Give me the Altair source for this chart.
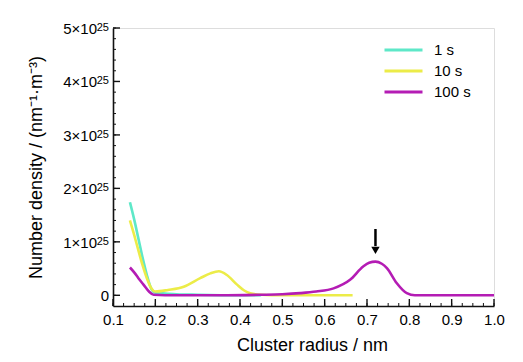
import altair as alt
import pandas as pd

# Data in units of 1e25 nm^-1 m^-3
x_1s = [0.14, 0.15, 0.16, 0.17, 0.18, 0.19, 0.20, 0.25, 0.30, 0.40, 0.45]
y_1s = [1.74, 1.42, 1.06, 0.70, 0.38, 0.13, 0.05, 0.02, 0.01, 0.0, 0.0]

x_10s = [0.14, 0.15, 0.16, 0.17, 0.18, 0.19, 0.20, 0.23, 0.267, 0.306, 0.33, 0.35, 0.369, 0.393, 0.41, 0.424, 0.45, 0.50, 0.60, 0.666]
y_10s = [1.40, 1.13, 0.84, 0.56, 0.32, 0.14, 0.07, 0.10, 0.16, 0.32, 0.41, 0.45, 0.38, 0.20, 0.09, 0.04, 0.01, 0.0, 0.0, 0.0]

x_100s = [0.14, 0.15, 0.16, 0.172, 0.185, 0.196, 0.25, 0.35, 0.45, 0.50, 0.542, 0.58, 0.621, 0.66, 0.691, 0.705, 0.72, 0.735, 0.747, 0.77, 0.794, 0.813, 0.85, 0.90, 1.0]
y_100s = [0.52, 0.43, 0.32, 0.20, 0.07, 0.01, 0.0, 0.0, 0.01, 0.02, 0.04, 0.07, 0.13, 0.29, 0.54, 0.61, 0.63, 0.59, 0.51, 0.23, 0.04, 0.0, 0.0, 0.0, 0.0]

series = ["1 s", "10 s", "100 s"]
colors = ["#5ee8c8", "#ecec48", "#b41cb4"]

arrow_x = [0.72]
arrow_top = [1.24]
arrow_bottom = [0.92]
arrow_head = [0.84]

x_major = [0.1, 0.2, 0.3, 0.4, 0.5, 0.6, 0.7, 0.8, 0.9, 1.0]
y_major = [0, 1, 2, 3, 4, 5]
y_label_main = ["0", "1×10", "2×10", "3×10", "4×10", "5×10"]
y_label_exp = ["", "25", "25", "25", "25", "25"]
x_minor = [round(0.1 + 0.025 * i, 3) for i in range(37)]
y_minor = [round(0.2 * i, 2) for i in range(26)]

rows = []
for name, xs_, ys_ in [("1 s", x_1s, y_1s), ("10 s", x_10s, y_10s), ("100 s", x_100s, y_100s)]:
    for i, (a, b) in enumerate(zip(xs_, ys_)):
        rows.append({"series": name, "x": a, "y": b, "order": i})
df = pd.DataFrame(rows)

W, H = 381, 278
FONT = "Liberation Sans"

xs = alt.Scale(domain=[0.1, 1.0], nice=False, zero=False)
ys = alt.Scale(domain=[-0.2, 5.0], nice=False, zero=False)

lines = alt.Chart(df).mark_line(strokeWidth=2.6, interpolate="monotone", clip=True).encode(
    x=alt.X("x:Q", scale=xs, axis=alt.Axis(
        title="Cluster radius / nm", values=x_major, format=".1f", ticks=False,
        labelFlush=False, labelFont=FONT, labelFontSize=15, labelColor="#000", labelPadding=6,
        titleFont=FONT, titleFontSize=18, titleFontWeight="normal", titleColor="#000",
        titlePadding=9, titleX=199, domainColor="#111", domainWidth=1.6, grid=False)),
    y=alt.Y("y:Q", scale=ys, axis=alt.Axis(
        title="Number density / (nm⁻¹·m⁻³)", values=y_major, ticks=False, labels=False,
        titleFont=FONT, titleFontSize=18, titleFontWeight="normal", titleColor="#000",
        titlePadding=68, domainColor="#111", domainWidth=1.6, grid=False)),
    color=alt.Color("series:N", scale=alt.Scale(domain=series, range=colors),
                    legend=alt.Legend(title=None, orient="none", legendX=270, legendY=15,
                                      symbolType="stroke", symbolSize=1444, symbolStrokeWidth=3,
                                      clipHeight=14, rowPadding=6, labelFont=FONT,
                                      labelFontSize=15, labelColor="#000", labelOffset=10)),
    order="order:Q",
)

ylab_df = pd.DataFrame({"v": y_major, "main": y_label_main, "exp": y_label_exp})
ylab_main = alt.Chart(ylab_df).mark_text(align="right", baseline="alphabetic", dy=6, fontSize=15,
                                         font=FONT, color="#000").encode(
    y=alt.Y("v:Q", scale=ys), x=alt.value(-16), text="main:N").transform_filter("datum.exp != ''")
ylab_zero = alt.Chart(ylab_df).mark_text(align="right", baseline="alphabetic", dy=6,
                                         fontSize=15, font=FONT, color="#000").encode(
    y=alt.Y("v:Q", scale=ys), x=alt.value(-4), text="main:N").transform_filter("datum.exp == ''")
ylab_exp = alt.Chart(ylab_df).mark_text(align="right", baseline="alphabetic", dy=3, fontSize=11,
                                        font=FONT, color="#000").encode(
    y=alt.Y("v:Q", scale=ys), x=alt.value(-4), text="exp:N").transform_filter("datum.exp != ''")

xmaj = alt.Chart(pd.DataFrame({"v": x_major})).mark_rule(color="#111", strokeWidth=1.4).encode(
    x=alt.X("v:Q", scale=xs), y=alt.value(H), y2=alt.value(H - 7))
xmin = alt.Chart(pd.DataFrame({"v": x_minor})).mark_rule(color="#111", strokeWidth=1).encode(
    x=alt.X("v:Q", scale=xs), y=alt.value(H), y2=alt.value(H - 3))
ymaj = alt.Chart(pd.DataFrame({"v": y_major})).mark_rule(color="#111", strokeWidth=1.4).encode(
    y=alt.Y("v:Q", scale=ys), x=alt.value(0), x2=alt.value(7))
ymin = alt.Chart(pd.DataFrame({"v": y_minor})).mark_rule(color="#111", strokeWidth=1).encode(
    y=alt.Y("v:Q", scale=ys), x=alt.value(0), x2=alt.value(3))

arrow_df = pd.DataFrame({"x": arrow_x, "top": arrow_top, "bottom": arrow_bottom, "head": arrow_head})
shaft = alt.Chart(arrow_df).mark_rule(color="#000", strokeWidth=2.5).encode(
    x=alt.X("x:Q", scale=xs), y=alt.Y("top:Q", scale=ys), y2="bottom:Q")
head = alt.Chart(arrow_df).mark_point(shape="triangle-down", filled=True, color="#000", size=70, opacity=1).encode(
    x=alt.X("x:Q", scale=xs), y=alt.Y("head:Q", scale=ys))

chart = alt.layer(lines, xmin, xmaj, ymin, ymaj, shaft, head, ylab_main, ylab_zero, ylab_exp).properties(
    width=W, height=H,
    autosize=alt.AutoSizeParams(type="none"),
    padding={"left": 105, "top": 20, "right": 21, "bottom": 48},
).configure_view(stroke="#111", strokeWidth=1.6).configure(background="white")

chart.save("out.html", embed_options={"renderer": "svg", "actions": False})
